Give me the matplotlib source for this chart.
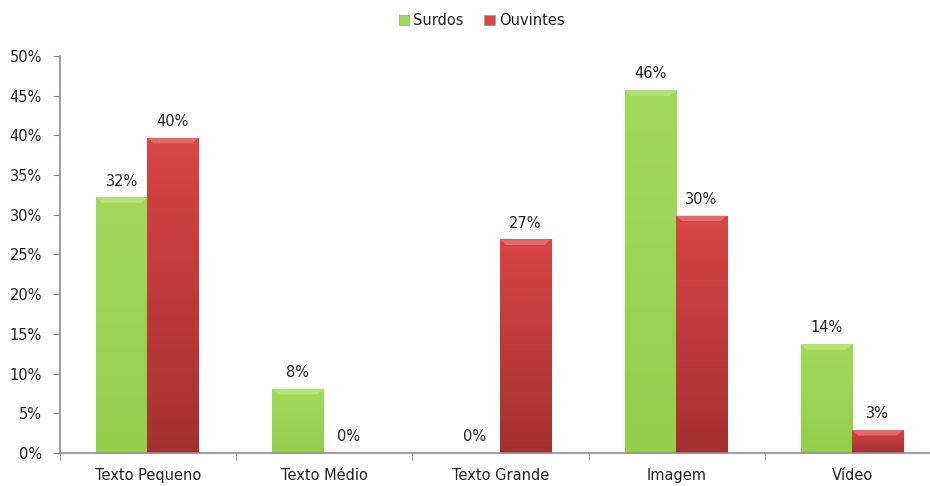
import numpy as np
import matplotlib.pyplot as plt
from matplotlib.colors import LinearSegmentedColormap
from matplotlib.patches import Polygon
from matplotlib.ticker import PercentFormatter

categorias = ["Texto Pequeno", "Texto Médio", "Texto Grande", "Imagem", "Vídeo"]
surdos = [0.322, 0.081, 0.0, 0.457, 0.137]
ouvintes = [0.397, 0.0, 0.269, 0.299, 0.029]
series = ["Surdos", "Ouvintes"]

cores = {"Surdos": ("#a2d95a", "#94cf4c", "#c4ec8c"),
         "Ouvintes": ("#d84545", "#a63030", "#ec8484")}

fig = plt.figure(figsize=(9.3, 4.86), dpi=100)
ax = fig.add_axes([60 / 930, 33 / 486, 881 / 930, 397 / 486])

x = np.arange(len(categorias))
w = 0.29
txt = "#1f1f1f"
fs = 10.5

for i, (nome, vals) in enumerate(zip(series, [surdos, ouvintes])):
    topo, base, luz = cores[nome]
    pos = x + (i - 0.5) * w - 0.005
    barras = ax.bar(pos, vals, w, color=topo, edgecolor="#8a8a8a",
                    linewidth=0.4, label=nome, zorder=2)
    cmap = LinearSegmentedColormap.from_list(nome, [base, topo])
    for b, v in zip(barras, vals):
        x0, x1 = b.get_x(), b.get_x() + b.get_width()
        if v > 0:
            # vertical gradient, clipped to the bar
            grad = np.linspace(0, 1, 100).reshape(-1, 1)
            im = ax.imshow(grad, cmap=cmap, origin="lower", aspect="auto",
                           extent=(x0, x1, 0, v), zorder=2.1)
            im.set_clip_path(b)
            # bevel on the top edge
            dx = b.get_width() * 0.12
            dy = 0.007
            ax.add_patch(Polygon([(x0, v), (x1, v), (x1 - dx, v - dy), (x0 + dx, v - dy)],
                                 closed=True, color=luz, alpha=0.6, lw=0, zorder=2.2))
        ax.text(b.get_x() + b.get_width() / 2, v + 0.011, f"{v:.0%}",
                ha="center", va="bottom", fontsize=fs, color=txt)

ax.set_xlim(-0.5, len(categorias) - 0.5)
ax.set_ylim(0, 0.5)
ax.set_yticks(np.arange(0, 0.51, 0.05))
ax.yaxis.set_major_formatter(PercentFormatter(1.0, decimals=0))
ax.set_xticks(x)
ax.set_xticklabels(categorias)
ax.set_xticks(np.arange(-0.5, len(categorias), 1), minor=True)

for s in ["top", "right"]:
    ax.spines[s].set_visible(False)
for s in ["left", "bottom"]:
    ax.spines[s].set_color("#8c8c8c")
    ax.spines[s].set_linewidth(1.2)

ax.tick_params(axis="y", length=5, color="#8c8c8c", labelsize=fs, labelcolor=txt, pad=8)
ax.tick_params(axis="x", which="major", length=0, labelsize=fs, labelcolor=txt, pad=11)
ax.tick_params(axis="x", which="minor", length=5, color="#8c8c8c")

leg = fig.legend(loc="upper center", bbox_to_anchor=(0.518, 1.0), ncol=2, frameon=False,
                 fontsize=fs, handlelength=0.7, handleheight=0.7, handletextpad=0.3,
                 columnspacing=1.4, labelcolor=txt)

fig.savefig("out.png", dpi=100)
